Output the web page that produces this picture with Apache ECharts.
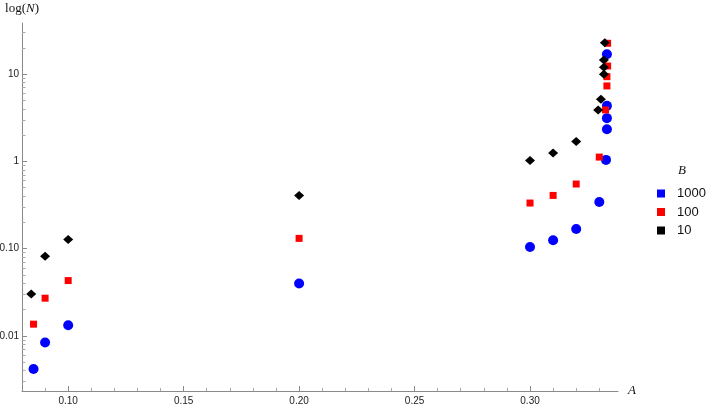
<!DOCTYPE html>
<html>
<head>
<meta charset="utf-8">
<style>
  html, body { margin: 0; padding: 0; background: #fff; }
  #chart { width: 708px; height: 406px; }
</style>
<script src="https://cdn.jsdelivr.net/npm/echarts@6.0.0/dist/echarts.min.js"></script>
</head>
<body>
<div id="chart"></div>
<script>
// B = 1000 (blue circles)
const a1000 = [0.085, 0.09, 0.10, 0.20, 0.30, 0.31, 0.32, 0.33, 0.3329, 0.3333, 0.3333, 0.3333, 0.3333];
const n1000 = [0.00416, 0.0084, 0.0132, 0.0398, 0.1045, 0.1245, 0.168, 0.342, 1.04, 2.34, 3.13, 4.33, 16.9];
// B = 100 (red squares)
const a100 = [0.085, 0.09, 0.10, 0.20, 0.30, 0.31, 0.32, 0.33, 0.3327, 0.3333, 0.3333, 0.3336, 0.3336];
const n100 = [0.0136, 0.027, 0.043, 0.131, 0.333, 0.407, 0.55, 1.12, 3.89, 7.33, 9.36, 12.4, 22.6];
// B = 10 (black diamonds)
const a10 = [0.084, 0.09, 0.10, 0.20, 0.30, 0.31, 0.32, 0.3295, 0.3307, 0.332, 0.332, 0.332, 0.3324];
const n10 = [0.0301, 0.0817, 0.127, 0.407, 1.024, 1.25, 1.69, 3.89, 5.16, 9.97, 12.0, 14.5, 22.9];

const seriesNames = ["1000", "100", "10"];

// ticks
const xMajorTicks = [0.10, 0.15, 0.20, 0.25, 0.30];
const xMinorTicks = [0.09, 0.11, 0.12, 0.13, 0.14, 0.16, 0.17, 0.18, 0.19, 0.21, 0.22, 0.23, 0.24,
  0.26, 0.27, 0.28, 0.29, 0.31, 0.32, 0.33];
const yMajorTicks = [0.01, 0.1, 1, 10];
const yTickLabels = ["0.01", "0.10", "1", "10"];
const yMinorTicks = [0.003, 0.004, 0.005, 0.006, 0.007, 0.008, 0.009,
  0.02, 0.03, 0.04, 0.05, 0.06, 0.07, 0.08, 0.09,
  0.2, 0.3, 0.4, 0.5, 0.6, 0.7, 0.8, 0.9,
  2, 3, 4, 5, 6, 7, 8, 9,
  20, 30];

const xMin = 0.08, xMax = 0.3381;
const yMin = 0.00233, yMax = 38.6;

function pairs(xs, ys) {
  return xs.map((x, i) => [x, ys[i]]);
}

const axisGray = "#8a8a8a";
// outerBoundsMode none: keep the plot box exactly where it is, labels may touch the edge
const gridBox = { left: 22, right: 90, top: 23, bottom: 15, outerBoundsMode: "none", containLabel: false };

let chart = echarts.init(document.getElementById("chart"), null, { renderer: "canvas" });

let option = {
  backgroundColor: "#fff",
  animation: false,
  title: {
    text: "B",
    left: 678,
    top: 164,
    padding: 0,
    textStyle: {
      fontFamily: "Liberation Serif",
      fontStyle: "italic",
      fontWeight: "normal",
      fontSize: 13,
      color: "#111",
    },
  },
  legend: {
    orient: "vertical",
    left: 657,
    top: 187,
    padding: 0,
    itemWidth: 8,
    itemHeight: 8,
    itemGap: 5.5,
    icon: "rect",
    data: seriesNames,
    textStyle: {
      fontFamily: "Liberation Sans",
      fontSize: 13,
      color: "#111",
      padding: [0, 0, 0, 7],
    },
  },
  grid: [
    Object.assign({}, gridBox),
    Object.assign({}, gridBox), // overlay grid, only carries the minor ticks
  ],
  xAxis: [
    {
      type: "value",
      gridIndex: 0,
      min: xMin,
      max: xMax,
      name: "A",
      nameLocation: "end",
      nameGap: 10,
      nameTextStyle: {
        fontFamily: "Liberation Serif",
        fontStyle: "italic",
        fontSize: 13,
        color: "#111",
        verticalAlign: "middle",
      },
      axisLine: { lineStyle: { color: axisGray, width: 1 } },
      axisTick: { inside: true, length: 5, customValues: xMajorTicks, lineStyle: { color: axisGray } },
      axisLabel: {
        customValues: xMajorTicks,
        margin: 5,
        fontFamily: "Liberation Sans",
        fontSize: 10,
        color: "#222",
        formatter: (v) => v.toFixed(2),
      },
      splitLine: { show: false },
    },
    {
      type: "value",
      gridIndex: 1,
      min: xMin,
      max: xMax,
      axisLine: { show: false },
      axisTick: { inside: true, length: 3, customValues: xMinorTicks, lineStyle: { color: "#a8a8a8" } },
      axisLabel: { show: false },
      splitLine: { show: false },
    },
  ],
  yAxis: [
    {
      type: "log",
      logBase: 10,
      gridIndex: 0,
      min: yMin,
      max: yMax,
      name: "{r|log(}{i|N}{r|)}",
      nameLocation: "end",
      nameGap: 8,
      nameTextStyle: {
        align: "center",
        rich: {
          r: { fontFamily: "Liberation Serif", fontSize: 13, color: "#111" },
          i: { fontFamily: "Liberation Serif", fontStyle: "italic", fontSize: 13, color: "#111" },
        },
      },
      axisLine: { show: true, lineStyle: { color: axisGray, width: 1 } },
      axisTick: { inside: true, length: 5, customValues: yMajorTicks, lineStyle: { color: axisGray } },
      axisLabel: {
        customValues: yMajorTicks,
        margin: 3,
        fontFamily: "Liberation Sans",
        fontSize: 10,
        color: "#222",
        formatter: (v) => {
          let k = 0;
          yMajorTicks.forEach((t, i) => {
            if (Math.abs(Math.log10(t) - Math.log10(v)) < Math.abs(Math.log10(yMajorTicks[k]) - Math.log10(v))) k = i;
          });
          return yTickLabels[k];
        },
      },
      splitLine: { show: false },
    },
    {
      type: "log",
      logBase: 10,
      gridIndex: 1,
      min: yMin,
      max: yMax,
      axisLine: { show: false },
      axisTick: { inside: true, length: 3.5, customValues: yMinorTicks, lineStyle: { color: "#a8a8a8" } },
      axisLabel: { show: false },
      splitLine: { show: false },
    },
  ],
  series: [
    {
      name: "1000",
      type: "scatter",
      xAxisIndex: 0,
      yAxisIndex: 0,
      symbol: "circle",
      symbolSize: 10,
      itemStyle: { color: "#0000ff", opacity: 1 },
      data: pairs(a1000, n1000),
      z: 2,
    },
    {
      name: "100",
      type: "scatter",
      xAxisIndex: 0,
      yAxisIndex: 0,
      symbol: "rect",
      symbolSize: 7,
      itemStyle: { color: "#ff0000", opacity: 1 },
      data: pairs(a100, n100),
      z: 3,
    },
    {
      name: "10",
      type: "scatter",
      xAxisIndex: 0,
      yAxisIndex: 0,
      symbol: "diamond",
      symbolSize: [10, 9],
      itemStyle: { color: "#000000", opacity: 1 },
      data: pairs(a10, n10),
      z: 4,
    },
  ],
};

chart.setOption(option, true);
</script>
</body>
</html>
